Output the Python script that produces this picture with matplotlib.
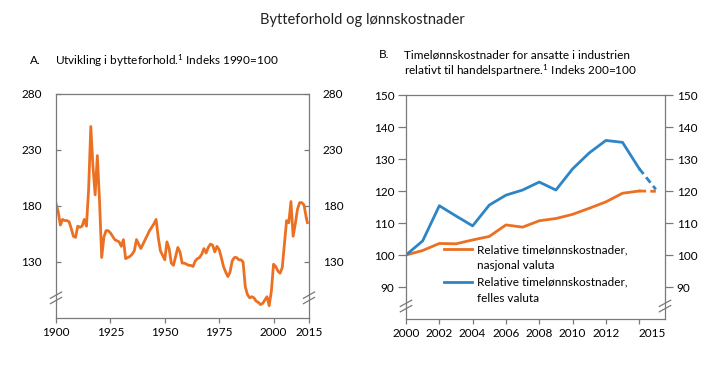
"""
Bytteforhold og lønnskostnader
A: bytteforhold 1900-2015, B: relative timelønnskostnader 2000-2015
"""

import matplotlib
matplotlib.use('Agg')
import matplotlib.pyplot as plt
from matplotlib.lines import Line2D

plt.rcParams['font.family'] = ['Lato', 'DejaVu Sans']
plt.rcParams['font.size'] = 8.5
plt.rcParams['mathtext.fontset'] = 'custom'
plt.rcParams['mathtext.rm'] = 'Lato'
plt.rcParams['mathtext.default'] = 'rm'

ORANGE = '#EB7022'
BLUE = '#2E85C6'
GREY = '#7a7a7a'

# ---- Panel A: bytteforhold, indeks 1990=100 ----
years_a = list(range(1900, 2016))
tot_a = [182, 175, 163, 168, 167, 167, 166, 160, 153, 152,
         162, 161, 162, 168, 162, 195, 251, 215, 190, 225,
         185, 134, 152, 158, 158, 156, 153, 150, 149, 148,
         144, 150, 133, 134, 135, 137, 140, 150, 146, 142,
         146, 150, 154, 158, 161, 164, 168, 152, 140, 136,
         132, 148, 142, 129, 127, 135, 143, 139, 129, 129,
         128, 127, 127, 126, 131, 133, 134, 137, 142, 138,
         143, 146, 145, 139, 144, 141, 134, 126, 121, 117,
         121, 131, 134, 134, 132, 132, 130, 108, 101, 98,
         99, 98, 95, 94, 92, 93, 96, 99, 91, 104,
         128, 126, 122, 120, 125, 146, 167, 165, 184, 153,
         164, 177, 183, 183, 181, 170]
years_a_proj = [2015, 2016]
tot_a_proj = [170, 161]

# ---- Panel B: timelønnskostnader, indeks 2000=100 ----
years_b = list(range(2000, 2015))
nasjonal = [100, 101.4, 103.6, 103.5, 104.7, 105.8, 109.4, 108.7, 110.7,
            111.4, 112.7, 114.6, 116.6, 119.3, 120.0]
felles = [100, 104.4, 115.4, 112.2, 109.1, 115.6, 118.7, 120.3, 122.8,
          120.3, 126.9, 131.9, 135.8, 135.2, 127.0]
years_b_proj = [2014, 2015]
nasjonal_proj = [120.0, 119.9]
felles_proj = [127.0, 120.5]

fig = plt.figure(figsize=(7.19, 3.66), dpi=100)
W, H = 719, 366


def px_axes(x0, y0, x1, y1):
    return fig.add_axes([x0 / W, 1 - y1 / H, (x1 - x0) / W, (y1 - y0) / H])


def style_spines(ax):
    for s in ax.spines.values():
        s.set_color(GREY)
        s.set_linewidth(0.9)


def break_marks(ax, yfrac):
    # small double slash across both vertical spines
    for xf in (0, 1):
        for dy in (-0.012, 0.012):
            ax.plot([xf - 0.022, xf + 0.022], [yfrac + dy - 0.014, yfrac + dy + 0.014],
                    transform=ax.transAxes, color=GREY, lw=0.9, clip_on=False)


fig.text(362 / W, 1 - 20 / H, 'Bytteforhold og lønnskostnader', ha='center', va='center',
         fontsize=10.5, color='#222222')

# ==================== A ====================
axA = px_axes(56, 94, 309, 318)
axA.plot(years_a, tot_a, color=ORANGE, lw=2.0, solid_joinstyle='round')
axA.plot(years_a_proj, tot_a_proj, color=ORANGE, lw=2.0, ls=(0, (2.5, 1.5)))
axA.set_xlim(1900, 2016.3)
axA.set_ylim(80, 280)
axA.set_yticks([130, 180, 230, 280])
axA.set_xticks([1900, 1925, 1950, 1975, 2000, 2016.3],
               ['1900', '1925', '1950', '1975', '2000', '2015'])
axA.tick_params(axis='y', direction='in', length=3.5, width=0.9, color=GREY,
                right=True, labelright=True, pad=10, labelsize=8.5)
axA.tick_params(axis='x', direction='out', length=3.5, width=0.9, color=GREY,
                pad=3, labelsize=8.5)
style_spines(axA)
break_marks(axA, 0.09)

fig.text(30 / W, 1 - 61 / H, 'A.', ha='left', va='center', fontsize=8.5)
fig.text(55 / W, 1 - 61 / H, r'Utvikling i bytteforhold.$^{1}$ Indeks 1990=100',
         ha='left', va='center', fontsize=8.5)

# ==================== B ====================
axB = px_axes(406, 95, 665, 319)
axB.plot(years_b, nasjonal, color=ORANGE, lw=2.0)
axB.plot(years_b, felles, color=BLUE, lw=2.0)
axB.plot(years_b_proj, nasjonal_proj, color=ORANGE, lw=2.0, ls=(0, (2.5, 1.5)))
axB.plot(years_b_proj, felles_proj, color=BLUE, lw=2.0, ls=(0, (2.5, 1.5)))
axB.set_xlim(2000, 2015.55)
axB.set_ylim(80, 150)
axB.set_yticks(range(90, 151, 10))
axB.set_xticks(list(range(2000, 2013, 2)) + [2014],
               [str(y) for y in range(2000, 2013, 2)] + [''])
axB.set_xticks([2014.8], ['2015'], minor=True)
axB.tick_params(axis='y', direction='out', length=5.5, width=0.9, color=GREY,
                right=True, labelright=True, pad=3, labelsize=8.5)
axB.tick_params(axis='x', which='major', direction='out', length=3.5, width=0.9,
                color=GREY, pad=3, labelsize=8.5)
axB.tick_params(axis='x', which='minor', length=0, pad=6.5, labelsize=8.5)
style_spines(axB)
break_marks(axB, 0.058)

handles = [Line2D([], [], color=ORANGE, lw=2.0), Line2D([], [], color='none'),
           Line2D([], [], color=BLUE, lw=2.0), Line2D([], [], color='none')]
labels = ['Relative timelønnskostnader,', 'nasjonal valuta',
          'Relative timelønnskostnader,', 'felles valuta']
axB.legend(handles, labels, loc='upper left', bbox_to_anchor=(0.147, 0.334),
           frameon=False, handlelength=2.4, handletextpad=0.35, labelspacing=0.45,
           fontsize=8.5, borderpad=0, borderaxespad=0)

fig.text(379 / W, 1 - 55 / H, 'B.', ha='left', va='center', fontsize=8.5)
fig.text(404 / W, 1 - 55 / H, 'Timelønnskostnader for ansatte i industrien',
         ha='left', va='center', fontsize=8.5)
fig.text(404 / W, 1 - 71 / H, r'relativt til handelspartnere.$^{1}$ Indeks 200=100',
         ha='left', va='center', fontsize=8.5)

fig.savefig('out.png', dpi=100)
